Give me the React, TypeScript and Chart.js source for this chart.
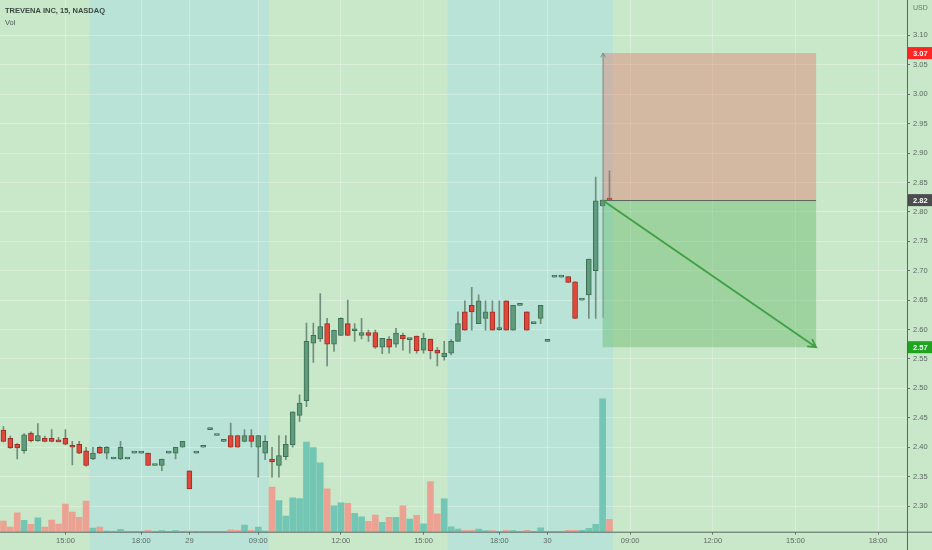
import { useEffect, useRef } from "react";
import { Chart, registerables } from "chart.js";

Chart.register(...registerables);

const symbolTitle = "TREVENA INC, 15, NASDAQ";
const volumeTitle = "Vol";
const currency = "USD";

// 15 minute bars, one slot per bar (slots after the last bar are future time)
const opens = [
  2.429, 2.415, 2.405, 2.394, 2.424, 2.411, 2.415, 2.415, 2.41, 2.415,
  2.401, 2.405, 2.394, 2.38, 2.4, 2.39, 2.38, 2.38, 2.38, 2.39,
  2.39, 2.39, 2.369, 2.369, 2.39, 2.39, 2.4, 2.36, 2.39, 2.4,
  2.43, 2.42, 2.41, 2.42, 2.42, 2.41, 2.42, 2.4, 2.39, 2.38,
  2.369, 2.384, 2.404, 2.454, 2.479, 2.577, 2.584, 2.61, 2.575, 2.59,
  2.61, 2.598, 2.59, 2.595, 2.595, 2.57, 2.584, 2.575, 2.59, 2.583,
  2.589, 2.565, 2.584, 2.565, 2.554, 2.56, 2.58, 2.63, 2.641, 2.61,
  2.619, 2.63, 2.6, 2.649, 2.599, 2.641, 2.63, 2.61, 2.619, 2.58,
  2.689, 2.689, 2.69, 2.681, 2.65, 2.659, 2.7, 2.81, 2.821,
];
const highs = [
  2.435, 2.419, 2.406, 2.423, 2.426, 2.44, 2.419, 2.43, 2.417, 2.43,
  2.41, 2.41, 2.4, 2.4, 2.401, 2.401, 2.38, 2.41, 2.38, 2.39,
  2.39, 2.39, 2.369, 2.38, 2.39, 2.4, 2.41, 2.36, 2.39, 2.4,
  2.43, 2.42, 2.41, 2.441, 2.42, 2.43, 2.43, 2.42, 2.42, 2.4,
  2.42, 2.42, 2.46, 2.489, 2.611, 2.611, 2.661, 2.619, 2.599, 2.62,
  2.65, 2.61, 2.619, 2.599, 2.599, 2.585, 2.588, 2.602, 2.594, 2.584,
  2.589, 2.594, 2.584, 2.57, 2.58, 2.583, 2.63, 2.649, 2.672, 2.659,
  2.649, 2.649, 2.649, 2.649, 2.641, 2.641, 2.63, 2.61, 2.641, 2.58,
  2.689, 2.689, 2.69, 2.681, 2.65, 2.72, 2.859, 2.82, 2.87,
];
const lows = [
  2.409, 2.398, 2.38, 2.39, 2.409, 2.41, 2.409, 2.409, 2.409, 2.404,
  2.37, 2.389, 2.368, 2.379, 2.389, 2.38, 2.38, 2.379, 2.38, 2.39,
  2.39, 2.369, 2.369, 2.36, 2.39, 2.38, 2.4, 2.329, 2.39, 2.4,
  2.43, 2.42, 2.41, 2.4, 2.4, 2.409, 2.4, 2.349, 2.379, 2.349,
  2.349, 2.379, 2.4, 2.444, 2.469, 2.544, 2.58, 2.538, 2.563, 2.59,
  2.59, 2.58, 2.584, 2.58, 2.568, 2.559, 2.56, 2.57, 2.565, 2.56,
  2.56, 2.56, 2.55, 2.538, 2.548, 2.557, 2.58, 2.599, 2.599, 2.61,
  2.599, 2.599, 2.599, 2.599, 2.599, 2.641, 2.599, 2.61, 2.61, 2.58,
  2.689, 2.689, 2.68, 2.619, 2.65, 2.619, 2.619, 2.81, 2.82,
];
const closes = [
  2.41, 2.399, 2.399, 2.421, 2.411, 2.42, 2.41, 2.41, 2.409, 2.405,
  2.4, 2.39, 2.369, 2.39, 2.39, 2.4, 2.38, 2.4, 2.38, 2.39,
  2.39, 2.369, 2.369, 2.38, 2.39, 2.4, 2.41, 2.329, 2.39, 2.4,
  2.43, 2.42, 2.41, 2.4, 2.4, 2.42, 2.41, 2.42, 2.41, 2.375,
  2.386, 2.405, 2.46, 2.475, 2.58, 2.59, 2.605, 2.575, 2.599, 2.619,
  2.59, 2.599, 2.595, 2.59, 2.57, 2.585, 2.57, 2.594, 2.584, 2.584,
  2.564, 2.585, 2.564, 2.56, 2.56, 2.58, 2.61, 2.599, 2.63, 2.649,
  2.63, 2.599, 2.601, 2.599, 2.641, 2.641, 2.599, 2.61, 2.641, 2.58,
  2.689, 2.689, 2.68, 2.619, 2.65, 2.72, 2.819, 2.82, 2.82,
];
// volume, thousands of shares
const volumes = [
  32, 14, 57, 34, 22, 42, 14, 35, 23, 83,
  59, 43, 92, 11, 14, 2, 1, 7, 1, 1,
  1, 4, 1, 3, 1, 3, 1, 2, 1, 1,
  1, 1, 1, 6, 4, 20, 4, 14, 2, 134,
  94, 47, 102, 100, 270, 253, 207, 129, 78, 87,
  85, 55, 45, 31, 50, 28, 43, 43, 78, 38,
  49, 24, 151, 54, 99, 15, 8, 4, 4, 8,
  3, 3, 1, 4, 3, 1, 4, 1, 12, 1,
  1, 1, 4, 4, 4, 10, 22, 400, 37,
];

const timeTickSlots = [9, 20, 27, 37, 49, 61, 72, 79, 91, 103, 115, 127];
const timeTickLabels = ["15:00", "18:00", "29", "09:00", "12:00", "15:00", "18:00", "30", "09:00", "12:00", "15:00", "18:00"];
const priceTicks = [2.3, 2.35, 2.4, 2.45, 2.5, 2.55, 2.6, 2.65, 2.7, 2.75, 2.8, 2.85, 2.9, 2.95, 3.0, 3.05, 3.1];

// extended hours sessions (slot ranges)
const extendedFrom = [12.5, 64.5];
const extendedTo = [38.5, 88.5];

// short position drawing
const stopPrice = 3.07;
const entryPrice = 2.82;
const targetPrice = 2.57;
const arrowLowPrice = 2.62;
const positionFrom = 87;
const positionTo = 118;

const FONT = "Liberation Sans";

const drawArrow = (ctx: CanvasRenderingContext2D, x0: number, y0: number, x1: number, y1: number, head: number) => {
  const a = Math.atan2(y1 - y0, x1 - x0);
  ctx.beginPath();
  ctx.moveTo(x0, y0);
  ctx.lineTo(x1, y1);
  ctx.moveTo(x1 - head * Math.cos(a - 0.5), y1 - head * Math.sin(a - 0.5));
  ctx.lineTo(x1, y1);
  ctx.lineTo(x1 - head * Math.cos(a + 0.5), y1 - head * Math.sin(a + 0.5));
  ctx.stroke();
};

const tvLook = {
  id: "tvLook",
  beforeDraw(chart: any) {
    const { ctx, scales } = chart;
    ctx.save();
    ctx.fillStyle = "#c9e7c9";
    ctx.fillRect(0, 0, chart.width, chart.height);
    ctx.fillStyle = "#b9e3d7";
    extendedFrom.forEach((from, i) => {
      const x0 = scales.x.getPixelForValue(from);
      const x1 = scales.x.getPixelForValue(extendedTo[i]);
      ctx.fillRect(x0, 0, x1 - x0, chart.height);
    });
    ctx.restore();
  },
  afterDatasetsDraw(chart: any) {
    const { ctx, scales } = chart;
    const x = scales.x;
    const y = scales.y;
    const left = x.getPixelForValue(positionFrom);
    const right = x.getPixelForValue(positionTo);
    const yStop = y.getPixelForValue(stopPrice);
    const yEntry = y.getPixelForValue(entryPrice);
    const yTarget = y.getPixelForValue(targetPrice);
    ctx.save();
    ctx.fillStyle = "rgba(230,100,90,0.35)";
    ctx.fillRect(left, yStop, right - left, yEntry - yStop);
    ctx.fillStyle = "rgba(76,175,80,0.35)";
    ctx.fillRect(left, yEntry, right - left, yTarget - yEntry);
    ctx.strokeStyle = "#5a675f";
    ctx.lineWidth = 1;
    ctx.beginPath();
    ctx.moveTo(left, Math.round(yEntry) + 0.5);
    ctx.lineTo(right, Math.round(yEntry) + 0.5);
    ctx.stroke();
    ctx.strokeStyle = "#7d8c90";
    drawArrow(ctx, left + 0.5, y.getPixelForValue(arrowLowPrice), left + 0.5, yStop, 5);
    ctx.strokeStyle = "#3fa043";
    ctx.lineWidth = 1.8;
    drawArrow(ctx, left, yEntry, right, yTarget, 9);
    ctx.restore();
  },
  afterDraw(chart: any) {
    const { ctx, chartArea, scales } = chart;
    ctx.save();
    ctx.strokeStyle = "#5b665f";
    ctx.lineWidth = 1;
    ctx.beginPath();
    ctx.moveTo(chartArea.right + 0.5, 0);
    ctx.lineTo(chartArea.right + 0.5, chart.height);
    ctx.moveTo(0, chartArea.bottom + 0.5);
    ctx.lineTo(chart.width, chartArea.bottom + 0.5);
    ctx.stroke();

    const tags: [number, string][] = [
      [stopPrice, "#ff2525"],
      [entryPrice, "#4a4d4b"],
      [targetPrice, "#1ea41e"],
    ];
    ctx.textBaseline = "middle";
    tags.forEach(([price, color]) => {
      const py = scales.y.getPixelForValue(price);
      ctx.fillStyle = color;
      ctx.fillRect(chartArea.right + 1, py - 6, chart.width - chartArea.right - 1, 12);
      ctx.fillStyle = "#ffffff";
      ctx.font = `bold 7.5px "${FONT}"`;
      ctx.fillText(price.toFixed(2), chartArea.right + 6, py + 0.5);
    });

    ctx.fillStyle = "#6c776f";
    ctx.font = `7px "${FONT}"`;
    ctx.fillText(currency, chartArea.right + 6, 8);

    ctx.fillStyle = "#3a4a40";
    ctx.font = `bold 7.5px "${FONT}"`;
    ctx.fillText(symbolTitle, 5, 11);
    ctx.fillStyle = "#4c5c52";
    ctx.font = `7.5px "${FONT}"`;
    ctx.fillText(volumeTitle, 5, 23);
    ctx.restore();
  },
};

const App = () => {
  const chartRef = useRef<HTMLCanvasElement | null>(null);

  useEffect(() => {
    const ctx = chartRef.current?.getContext("2d");
    if (!ctx) return;

    const slots = opens.map((_, i) => i);
    const up = slots.map((i) => closes[i] >= opens[i]);

    const chart = new Chart(ctx, {
      type: "bar",
      data: {
        datasets: [
          {
            label: "Body",
            data: slots.map((i) => ({ x: i, y: [opens[i], closes[i]] })) as any,
            backgroundColor: up.map((u) => (u ? "#5f9c7b" : "#e2473b")),
            borderColor: up.map((u) => (u ? "#3f6f56" : "#9a2d24")),
            borderWidth: 1,
            borderSkipped: false,
            barThickness: 5,
            minBarLength: 2,
            grouped: false,
            order: 1,
            yAxisID: "y",
          },
          {
            label: "Wick",
            data: slots.map((i) => ({ x: i, y: [lows[i], highs[i]] })) as any,
            backgroundColor: "#6f8f7e",
            barThickness: 1,
            grouped: false,
            order: 2,
            yAxisID: "y",
          },
          {
            label: "Volume",
            data: slots.map((i) => ({ x: i, y: volumes[i] })) as any,
            backgroundColor: up.map((u) => (u ? "#72c6b3" : "#eca293")),
            barThickness: 6,
            grouped: false,
            order: 3,
            yAxisID: "vol",
          },
        ],
      },
      options: {
        animation: false,
        responsive: true,
        maintainAspectRatio: false,
        events: [],
        layout: { padding: 0 },
        plugins: {
          legend: { display: false },
          tooltip: { enabled: false },
        },
        scales: {
          x: {
            type: "linear",
            min: -0.5,
            max: 131.2,
            offset: false,
            bounds: "data",
            afterBuildTicks: (s: any) => {
              s.ticks = timeTickSlots.map((v) => ({ value: v }));
            },
            afterFit: (s: any) => {
              s.height = 18.3;
              s.paddingLeft = 0;
              s.paddingRight = 0;
            },
            ticks: {
              autoSkip: false,
              maxRotation: 0,
              padding: 2,
              color: "#5d6a62",
              font: { family: FONT, size: 7.5 },
              callback: (v: any) => timeTickLabels[timeTickSlots.indexOf(v)] ?? "",
            },
            grid: {
              offset: false,
              color: "rgba(255,255,255,0.3)",
              tickColor: "#6a766f",
              tickLength: 3,
            },
            border: { display: false },
          },
          y: {
            type: "linear",
            position: "right",
            min: 2.2564,
            max: 3.1602,
            bounds: "data",
            afterBuildTicks: (s: any) => {
              s.ticks = priceTicks.map((v) => ({ value: v }));
            },
            afterFit: (s: any) => {
              s.width = 25;
              s.paddingTop = 0;
              s.paddingBottom = 0;
            },
            ticks: {
              padding: 3,
              color: "#5d6a62",
              font: { family: FONT, size: 7.5 },
              callback: (v: any) => Number(v).toFixed(2),
            },
            grid: {
              color: "rgba(255,255,255,0.3)",
              tickColor: "#6a766f",
              tickLength: 3,
            },
            border: { display: false },
          },
          vol: {
            type: "linear",
            display: false,
            min: 0,
            max: 1600,
          },
        },
      },
      plugins: [tvLook],
    });

    return () => {
      chart.destroy();
    };
  }, []);

  return (
    <div style={{ position: "fixed", left: 0, top: 0, width: 932, height: 550 }}>
      <canvas ref={chartRef}></canvas>
    </div>
  );
};

export default App;
